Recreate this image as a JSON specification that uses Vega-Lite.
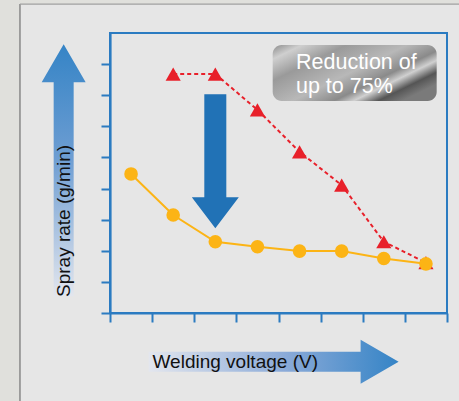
{
  "$schema": "https://vega.github.io/schema/vega-lite/v6.json",
  "width": 337,
  "height": 280,
  "autosize": "none",
  "padding": {"left": 110, "top": 33, "right": 12, "bottom": 88},
  "background": "#e6e6e6",
  "config": {
    "view": {"stroke": "#2b7bc1", "strokeWidth": 2},
    "axis": {
      "zindex": 2,
      "domainColor": "#2b7bc1", "domainWidth": 2.2,
      "tickColor": "#2b7bc1", "tickWidth": 2, "tickSize": 9,
      "labels": false, "grid": false,
      "titleFont": "Liberation Sans", "titleFontSize": 19, "titleFontWeight": "normal", "titleColor": "#111111"
    }
  },
  "datasets": {
    "marble": [
      {"x": -2.8, "x2": -2.137, "y": -3.5, "y2": 10.3},
      {"x": -2.137, "x2": 9.5, "y": 9.93, "y2": 10.3}
    ],
    "borderV": [{"x": -2.137, "y": -3.5, "y2": 9.93}],
    "borderH": [{"x": -2.137, "x2": 9.5, "y": 9.93}],
    "orange": [
      {"x": 0.5, "y": 4.47}, {"x": 1.5, "y": 3.15}, {"x": 2.5, "y": 2.29}, {"x": 3.5, "y": 2.13},
      {"x": 4.5, "y": 1.99}, {"x": 5.5, "y": 1.99}, {"x": 6.5, "y": 1.75}, {"x": 7.5, "y": 1.58}
    ],
    "red": [
      {"x": 1.5, "y": 7.68}, {"x": 2.5, "y": 7.68}, {"x": 3.5, "y": 6.53}, {"x": 4.5, "y": 5.18},
      {"x": 5.5, "y": 4.11}, {"x": 6.5, "y": 2.29}, {"x": 7.5, "y": 1.62}
    ],
    "box": [{"x": 3.862, "x2": 7.755, "y": 8.615, "y2": 6.815}],
    "note": [{"x": 4.415, "y": 7.843, "t": "Reduction of"}, {"x": 4.415, "y": 7.06, "t": "up to 75%"}],
    "downArrow": [{"x": 2.5, "y": 4.876}],
    "yArrow": [{"x": -1.1, "y": 4.585}],
    "xArrow": [{"x": 3.884, "y": -1.565}]
  },
  "encoding": {
    "x": {"field": "x", "type": "quantitative",
          "scale": {"domain": [0, 8], "nice": false, "zero": false},
          "axis": {"zindex": 2, "values": [0, 1, 2, 3, 4, 5, 6, 7, 8], "title": "Welding voltage (V)",
                   "titleAnchor": "start", "titleAlign": "left", "titleBaseline": "alphabetic",
                   "titleX": 42, "titleY": 54}},
    "y": {"field": "y", "type": "quantitative",
          "scale": {"domain": [0, 9], "nice": false, "zero": false},
          "axis": {"zindex": 2, "values": [0, 1, 2, 3, 4, 5, 6, 7, 8], "title": "Spray rate (g/min)",
                   "titleAngle": 270, "titleAlign": "left", "titleBaseline": "middle",
                   "titleX": -46.5, "titleY": 263.5}}
  },
  "layer": [
    {
      "data": {"name": "marble"},
      "mark": {"type": "rect", "fill": "#e0e0dc"},
      "encoding": {"x2": {"field": "x2"}, "y2": {"field": "y2"}}
    },
    {
      "data": {"name": "borderV"},
      "mark": {"type": "rule", "color": "#7a7a7a", "strokeWidth": 1.3},
      "encoding": {"y2": {"field": "y2"}}
    },
    {
      "data": {"name": "borderH"},
      "mark": {"type": "rule", "color": "#a0a0a0", "strokeWidth": 1.3},
      "encoding": {"x2": {"field": "x2"}}
    },
    {
      "data": {"name": "yArrow"},
      "mark": {"type": "point", "filled": true, "opacity": 1, "strokeWidth": 0, "size": 4,
               "shape": "M0,-126L22,-88L10,-88L10,126L-10,126L-10,-88L-22,-88Z",
               "fill": {"gradient": "linear", "x1": 0, "y1": 0, "x2": 0, "y2": 1,
                        "stops": [{"offset": 0, "color": "#3584c6"}, {"offset": 0.45, "color": "#6d9dd2"}, {"offset": 1, "color": "#e3e6ee"}]}}
    },
    {
      "data": {"name": "xArrow"},
      "mark": {"type": "point", "filled": true, "opacity": 1, "strokeWidth": 0, "size": 4,
               "shape": "M125,0L87,-22L87,-10L-125,-10L-125,10L87,10L87,22Z",
               "fill": {"gradient": "linear", "x1": 0, "y1": 0, "x2": 1, "y2": 0,
                        "stops": [{"offset": 0, "color": "#e3e6ee"}, {"offset": 0.55, "color": "#8aaad8"}, {"offset": 1, "color": "#3584c6"}]}}
    },
    {
      "data": {"name": "box"},
      "mark": {"type": "rect", "cornerRadius": 9,
               "fill": {"gradient": "linear", "x1": 0, "y1": 0, "x2": 1, "y2": 0.7,
                        "stops": [{"offset": 0, "color": "#8c8c8c"}, {"offset": 0.12, "color": "#cfcfcf"},
                                  {"offset": 0.3, "color": "#9a9a9a"}, {"offset": 0.55, "color": "#b8b8b8"},
                                  {"offset": 0.72, "color": "#8a8a8a"}, {"offset": 0.8, "color": "#d0d0d0"},
                                  {"offset": 0.9, "color": "#555555"}, {"offset": 1, "color": "#7a7a7a"}]}},
      "encoding": {"x2": {"field": "x2"}, "y2": {"field": "y2"}}
    },
    {
      "data": {"name": "note"},
      "mark": {"type": "text", "align": "left", "baseline": "alphabetic", "font": "Liberation Sans",
               "fontSize": 21.5, "color": "#ffffff"},
      "encoding": {"text": {"field": "t"}}
    },
    {
      "data": {"name": "downArrow"},
      "mark": {"type": "point", "filled": true, "opacity": 1, "strokeWidth": 0, "size": 4, "color": "#2172b6",
               "shape": "M-11,-67L11,-67L11,36L23.5,36L0,67L-23.5,36L-11,36Z"}
    },
    {
      "data": {"name": "red"},
      "mark": {"type": "line", "color": "#e8202a", "strokeWidth": 2, "strokeDash": [4, 3]}
    },
    {
      "data": {"name": "red"},
      "mark": {"type": "point", "shape": "triangle-up", "filled": true, "opacity": 1, "size": 230, "color": "#e8202a"}
    },
    {
      "data": {"name": "orange"},
      "mark": {"type": "line", "color": "#fcb415", "strokeWidth": 2}
    },
    {
      "data": {"name": "orange"},
      "mark": {"type": "circle", "opacity": 1, "size": 185, "color": "#fcb415"}
    }
  ]
}
